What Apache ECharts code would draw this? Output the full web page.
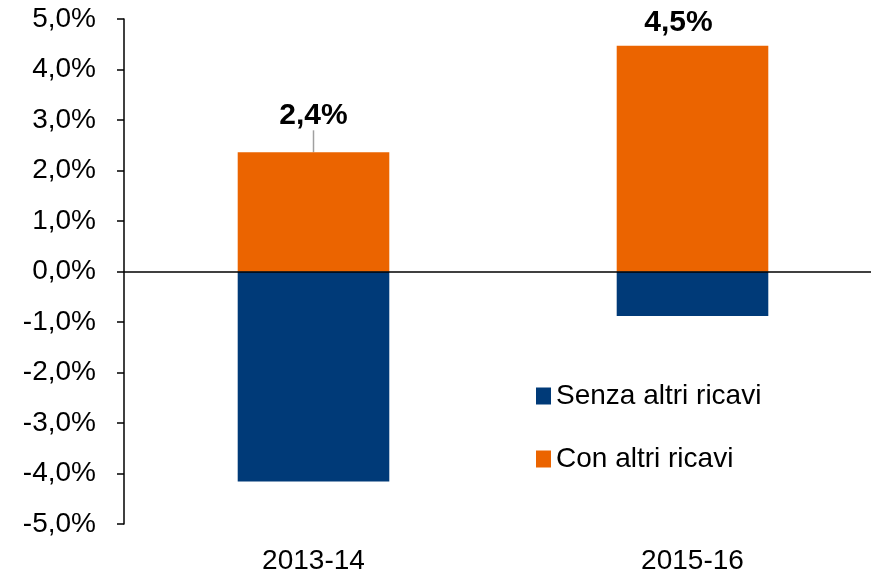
<!DOCTYPE html>
<html><head><meta charset="utf-8">
<script src="https://cdn.jsdelivr.net/npm/echarts@6/dist/echarts.min.js"></script>
<style>html,body{margin:0;padding:0;background:#fff;overflow:hidden}#c{width:882px;height:576px}</style>
</head><body><div id="c"></div>
<script>
const categories = ['2013-14', '2015-16'];
const senza = [-4.16, -0.88];
const con = [2.36, 4.47];
const seriesNames = ['Senza altri ricavi', 'Con altri ricavi'];

const fmt = v => v.toFixed(1).replace('.', ',') + '%';
const chart = echarts.init(document.getElementById('c'));
chart.setOption({
  animation: false,
  textStyle: { fontFamily: 'Liberation Sans, Arial, sans-serif' },
  grid: { left: 124, top: 19, bottom: 52, right: 0 },
  legend: {
    orient: 'vertical', left: 531, top: 377, itemWidth: 15, itemHeight: 17, itemGap: 35,
    icon: 'rect',
    textStyle: { fontSize: 28, color: '#000', fontFamily: 'Liberation Sans, Arial, sans-serif' },
    data: seriesNames
  },
  xAxis: {
    type: 'category', data: categories,
    axisLine: { show: false }, axisTick: { show: false },
    axisLabel: { fontSize: 28, color: '#000', margin: 23 }
  },
  yAxis: {
    type: 'value', min: -5, max: 5, interval: 1,
    axisLine: { show: true, lineStyle: { color: '#000', width: 1.5 } },
    axisTick: { show: true, length: 7, lineStyle: { color: '#000', width: 1.5 } },
    splitLine: { show: false },
    axisLabel: { fontSize: 28, color: '#000', margin: 28, formatter: fmt }
  },
  series: [
    {
      name: seriesNames[0], type: 'bar', stack: 's', barWidth: '40%',
      itemStyle: { color: '#003A78' },
      data: senza,
      markLine: {
        silent: true, symbol: 'none', label: { show: false },
        lineStyle: { color: '#000', width: 1.5, type: 'solid' },
        data: [{ yAxis: 0 }]
      }
    },
    {
      name: seriesNames[1], type: 'bar', stack: 's', barWidth: '40%',
      itemStyle: { color: '#EB6400' },
      label: {
        show: true, position: 'top', fontSize: 30, fontWeight: 'bold', color: '#000',
        formatter: p => fmt(p.value)
      },
      labelLayout: p => p.dataIndex === 0 ? { dy: -18 } : { dx: -14 },
      data: [
        { value: con[0], label: { distance: 4 },
          labelLine: { show: true, lineStyle: { color: '#A0A0A0', width: 1.5 } } },
        { value: con[1], label: { distance: 8 }, labelLine: { show: false } }
      ]
    }
  ]
});
</script></body></html>
